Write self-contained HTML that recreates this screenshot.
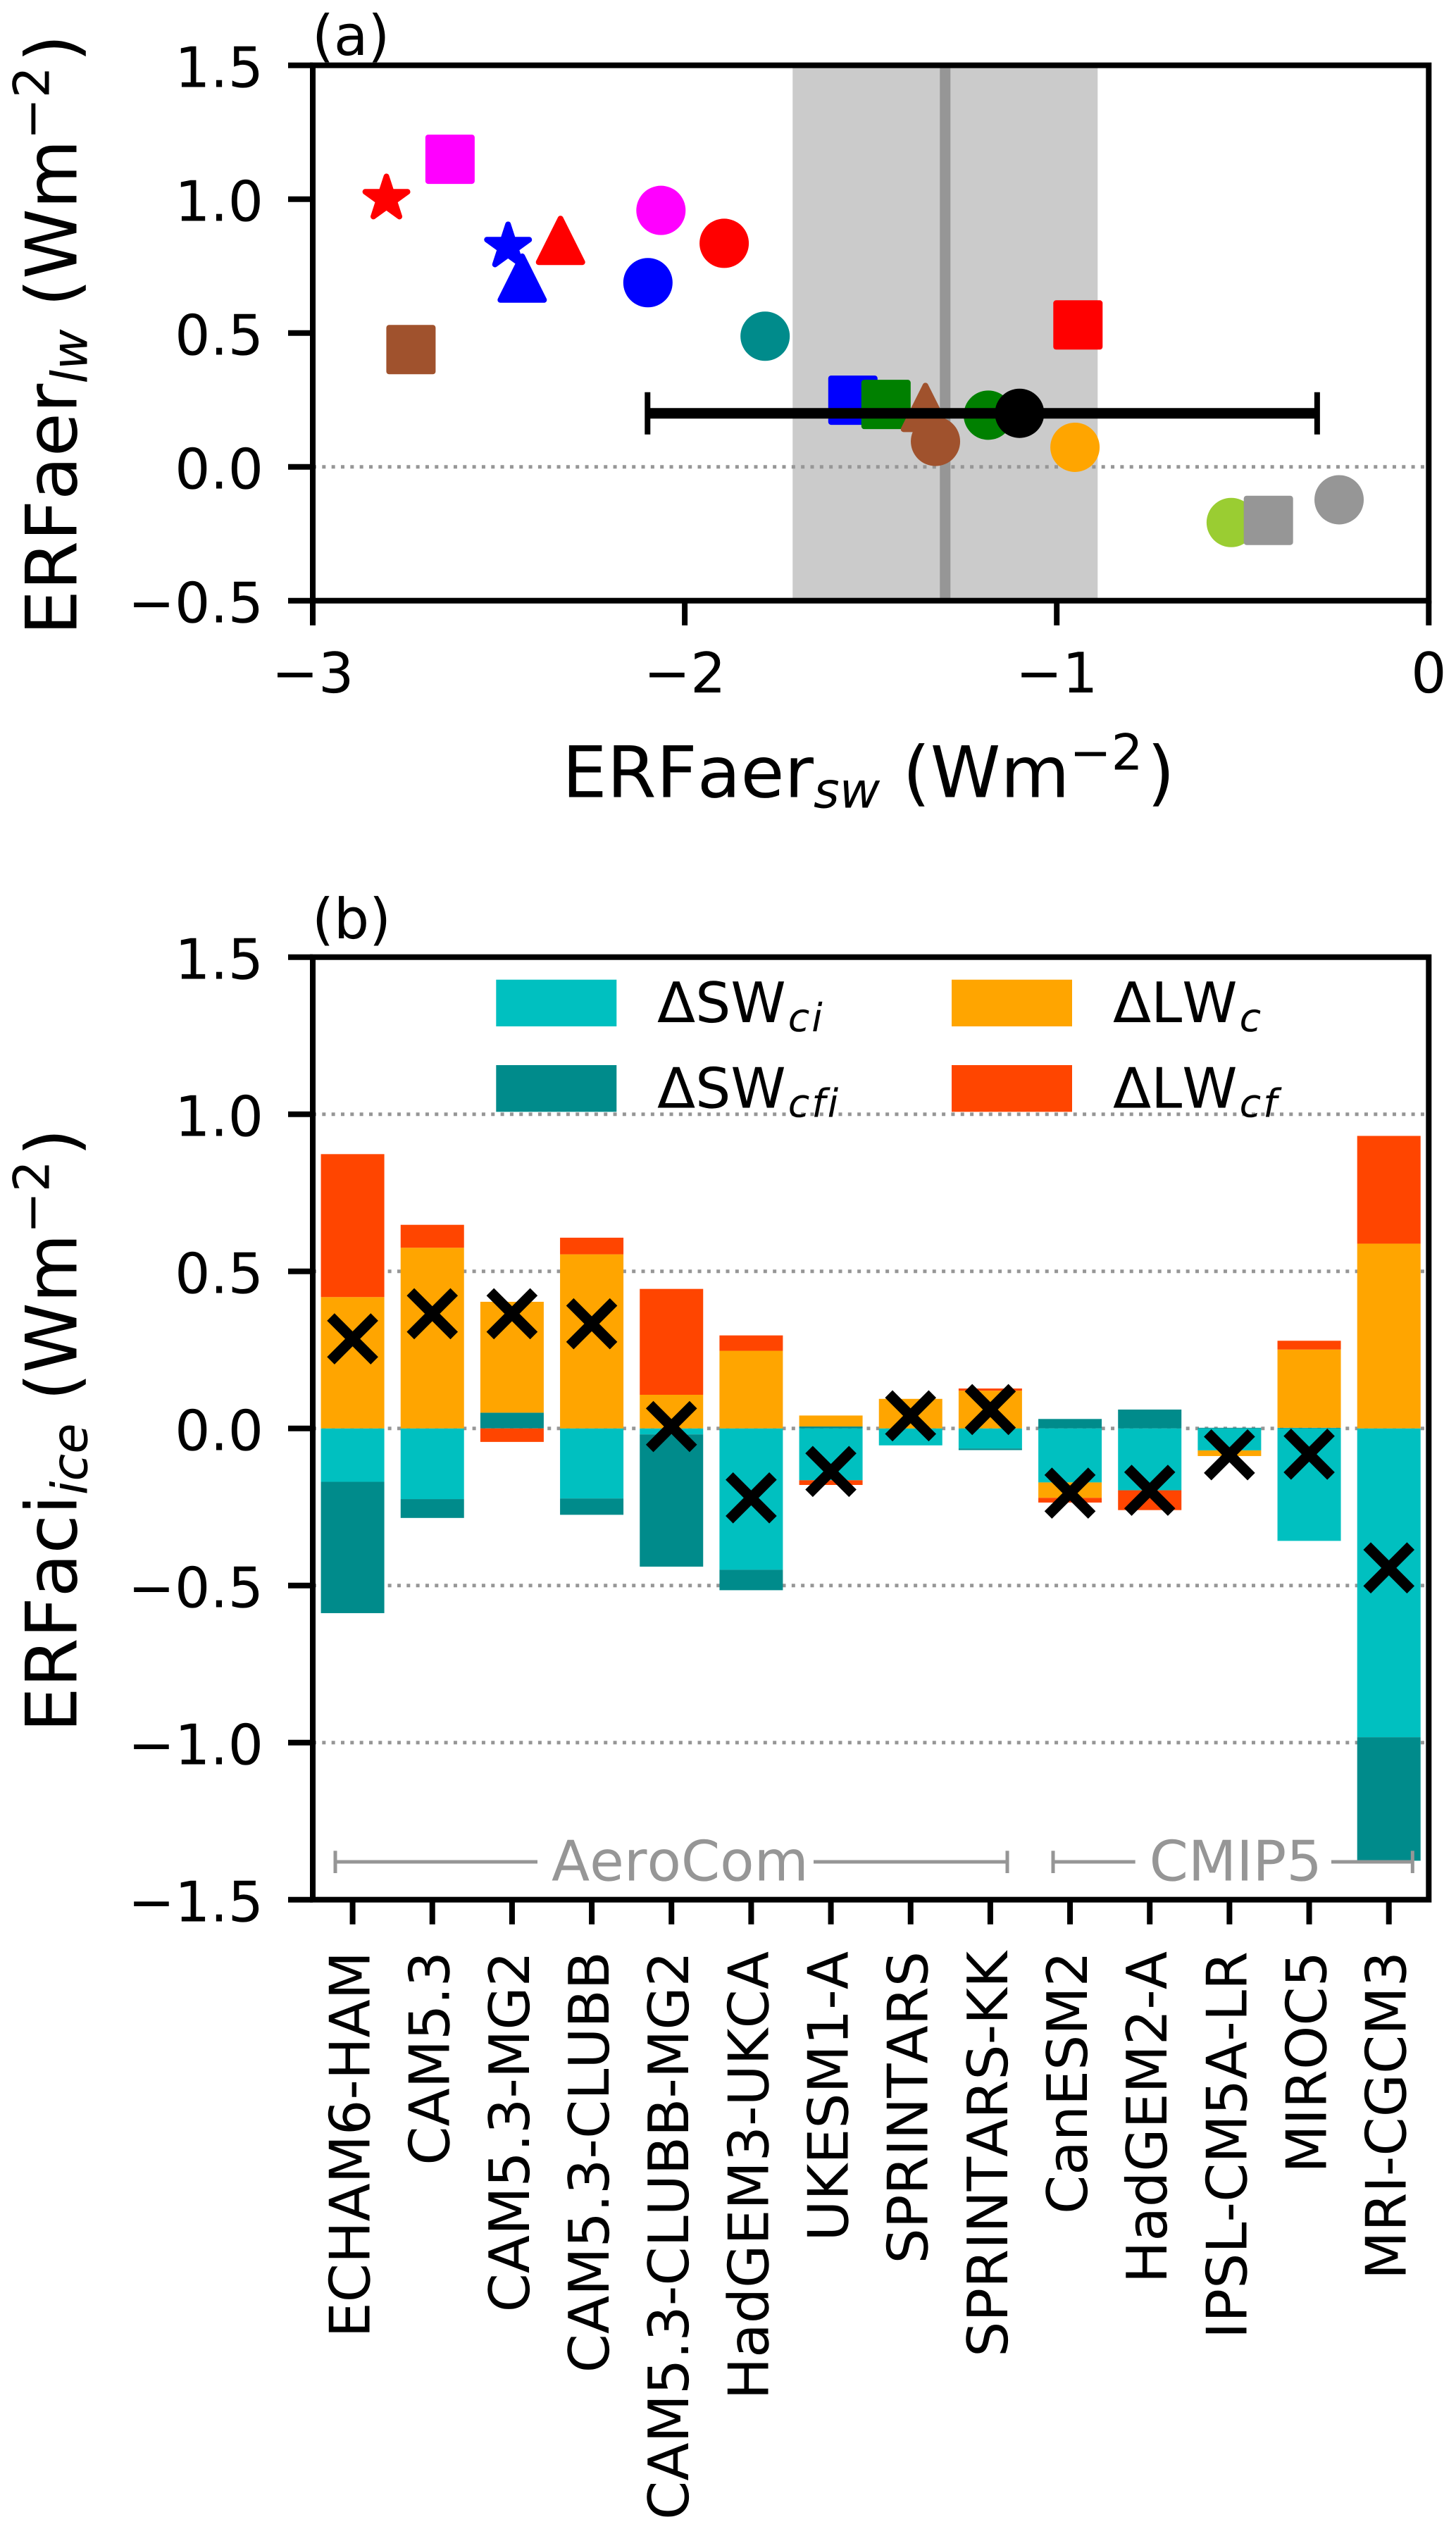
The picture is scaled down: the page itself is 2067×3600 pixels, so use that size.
<!DOCTYPE html>
<html lang="en">
<head>
<meta charset="utf-8">
<title>ERFaer and ERFaci ice figure</title>
<style>
html,body{margin:0;padding:0;background:#fff;}
svg{display:block;}
text{font-family:"DejaVu Sans","Liberation Sans",sans-serif;fill:#000;text-rendering:geometricPrecision;font-kerning:none;}
</style>
</head>
<body>
<svg id="figure" xmlns="http://www.w3.org/2000/svg" width="2067" height="3600" viewBox="0 0 2067 3600">
  <rect x="0" y="0" width="2067" height="3600" fill="#ffffff"/>
  <g id="panelA"></g>
  <g id="panelB"></g>

  <text x="443" y="78" font-size="79.2">(a)</text>
  <text x="798" y="1131.7" font-size="100.8">ERFaer<tspan font-size="70.5" font-style="italic" dy="15">sw</tspan><tspan font-size="100.8" dy="-15" xml:space="preserve"> (Wm</tspan><tspan font-size="70.5" dy="-39">−2</tspan><tspan font-size="100.8" dy="39" dx="6">)</tspan></text>
  <text transform="translate(108.3,901.6) rotate(-90)" x="0" y="0" font-size="100.8">ERFaer<tspan font-size="70.5" font-style="italic" dy="15">lw</tspan><tspan font-size="100.8" dy="-15" xml:space="preserve"> (Wm</tspan><tspan font-size="70.5" dy="-39">−2</tspan><tspan font-size="100.8" dy="39" dx="6">)</tspan></text>

  <text x="443" y="1332" font-size="79.2">(b)</text>
  <text transform="translate(108.3,2459) rotate(-90)" x="0" y="0" font-size="100.8">ERFaci<tspan font-size="70.5" font-style="italic" dy="15">ice</tspan><tspan font-size="100.8" dy="-15" xml:space="preserve"> (Wm</tspan><tspan font-size="70.5" dy="-39">−2</tspan><tspan font-size="100.8" dy="39" dx="6">)</tspan></text>

  <g id="legend">
    <rect x="704.3" y="1390.7" width="171" height="66.3" fill="#00c0c0"/>
    <rect x="704.3" y="1512" width="171" height="66.3" fill="#008b8b"/>
    <rect x="1351" y="1390.7" width="171" height="66.3" fill="#ffa500"/>
    <rect x="1351" y="1512" width="171" height="66.3" fill="#ff4500"/>
    <text x="933" y="1451" font-size="79.2">ΔSW<tspan font-size="55.5" font-style="italic" dy="13" dx="3" letter-spacing="3">ci</tspan></text>
    <text x="933" y="1572.3" font-size="79.2">ΔSW<tspan font-size="55.5" font-style="italic" dy="13" dx="3" letter-spacing="3">cfi</tspan></text>
    <text x="1580" y="1451" font-size="79.2">ΔLW<tspan font-size="55.5" font-style="italic" dy="13" dx="3" letter-spacing="3">c</tspan></text>
    <text x="1580" y="1572.3" font-size="79.2">ΔLW<tspan font-size="55.5" font-style="italic" dy="13" dx="3" letter-spacing="3">cf</tspan></text>
  </g>

  <g id="groupBrackets" stroke="#969696" stroke-width="5" fill="none">
    <line x1="476" y1="2643" x2="763" y2="2643"/>
    <line x1="476" y1="2627.3" x2="476" y2="2659"/>
    <line x1="1155" y1="2643" x2="1430" y2="2643"/>
    <line x1="1430" y1="2627.3" x2="1430" y2="2659"/>
    <line x1="1495" y1="2643" x2="1611.7" y2="2643"/>
    <line x1="1495" y1="2627.3" x2="1495" y2="2659"/>
    <line x1="1890" y1="2643" x2="2005.3" y2="2643"/>
    <line x1="2005.3" y1="2627.3" x2="2005.3" y2="2659"/>
  </g>
  <text x="783" y="2669.3" font-size="79.2" style="fill:#969696">AeroCom</text>
  <text x="1631.6" y="2669.3" font-size="79.2" style="fill:#969696">CMIP5</text>
</svg>

<script>
// ---------- Panel (a) data ----------
const scatterModels = ['red-star','magenta-square','brown-square','blue-star','blue-triangle','red-triangle','magenta-circle','red-circle','blue-circle','teal-circle','red-square','blue-square','green-square','brown-triangle','brown-circle','green-circle','orange-circle','yellowgreen-circle','grey-square','grey-circle'];
const scatterSw = [-2.802,-2.631,-2.736,-2.475,-2.437,-2.334,-2.064,-1.894,-2.099,-1.784,-0.943,-1.548,-1.459,-1.353,-1.326,-1.184,-0.951,-0.531,-0.431,-0.241];
const scatterLw = [1.002,1.149,0.438,0.823,0.705,0.846,0.958,0.835,0.688,0.488,0.530,0.249,0.233,0.222,0.095,0.193,0.073,-0.208,-0.200,-0.123];
const scatterShapes = ['star','square','square','star','triangle','triangle','circle','circle','circle','circle','square','square','square','triangle','circle','circle','circle','circle','square','circle'];
const scatterColors = ['#ff0000','#ff00ff','#a0522d','#0000ff','#0000ff','#ff0000','#ff00ff','#ff0000','#0000ff','#008b8b','#ff0000','#0000ff','#008000','#a0522d','#a0522d','#008000','#ffa500','#9acd32','#969696','#969696'];
const meanSw = [-1.1];
const meanLw = [0.2];
const errSwLow = [-2.1];
const errSwHigh = [-0.3];
const assessedLow = [-1.71];
const assessedHigh = [-0.89];
const assessedBest = [-1.3];
const aXTicks = [-3,-2,-1,0];
const aXTickLabels = ['−3','−2','−1','0'];
const aYTicks = [1.5,1.0,0.5,0.0,-0.5];
const aYTickLabels = ['1.5','1.0','0.5','0.0','−0.5'];

// ---------- Panel (b) data ----------
const modelNames = ['ECHAM6-HAM','CAM5.3','CAM5.3-MG2','CAM5.3-CLUBB','CAM5.3-CLUBB-MG2','HadGEM3-UKCA','UKESM1-A','SPRINTARS','SPRINTARS-KK','CanESM2','HadGEM2-A','IPSL-CM5A-LR','MIROC5','MRI-CGCM3'];
const swCi  = [-0.170,-0.225, 0.000,-0.223,-0.019,-0.450,-0.165,-0.054,-0.064,-0.172,-0.197,-0.070,-0.358,-0.983];
const swCfi = [-0.418,-0.060, 0.050,-0.052,-0.421,-0.065, 0.006, 0.000,-0.005, 0.030, 0.060, 0.002, 0.002,-0.393];
const lwC   = [ 0.418, 0.575, 0.353, 0.554, 0.107, 0.247, 0.035, 0.094, 0.120,-0.049, 0.000,-0.018, 0.249, 0.588];
const lwCf  = [ 0.455, 0.073,-0.043, 0.053, 0.337, 0.049,-0.015, 0.000, 0.007,-0.015,-0.063, 0.000, 0.028, 0.343];
const erfaciTotal = [0.285,0.365,0.365,0.333,0.006,-0.221,-0.137,0.040,0.060,-0.206,-0.197,-0.084,-0.082,-0.444];
const bYTicks = [1.5,1.0,0.5,0.0,-0.5,-1.0,-1.5];
const bYTickLabels = ['1.5','1.0','0.5','0.0','−0.5','−1.0','−1.5'];
const bGridLevels = [1.0,0.5,0.0,-0.5,-1.0];
const bSeriesNames = ['sw-ci','sw-cfi','lw-c','lw-cf'];
const bSeriesColors = ['#00c0c0','#008b8b','#ffa500','#ff4500'];

// ---------- Axis functions ----------
const AX = {left:444, right:2028.3, top:92.7, bottom:852.7};
const BX = {left:444, right:2028.3, top:1358.7, bottom:2696.7};
function xa(v){ return AX.right + (v - 0) * (AX.right - AX.left) / 3; }
function ya(v){ return AX.bottom - (v + 0.5) * (AX.bottom - AX.top) / 2; }
function xb(i){ return BX.left + (i + 0.5) * (BX.right - BX.left) / 14; }
function yb(v){ return BX.bottom - (v + 1.5) * (BX.bottom - BX.top) / 3; }

const NS = 'http://www.w3.org/2000/svg';
function mk(tag, attrs, parent){
  const el = document.createElementNS(NS, tag);
  for (const k in attrs) el.setAttribute(k, attrs[k]);
  parent.appendChild(el);
  return el;
}
const panelA = document.getElementById('panelA');
const panelB = document.getElementById('panelB');
const figure = document.getElementById('figure');
const GRID = {stroke:'#969696','stroke-width':5,'stroke-dasharray':'5 8.33'};

// ---------- Panel (a) drawing ----------
(function(){
  const shade = mk('rect',{x:xa(assessedLow[0]),y:AX.top,width:xa(assessedHigh[0])-xa(assessedLow[0]),height:AX.bottom-AX.top,fill:'#cbcbcb'},panelA);
  
  

  const zero = mk('line',Object.assign({x1:AX.left,x2:AX.right,y1:ya(0),y2:ya(0)},GRID),panelA);
  
  

  const best = mk('line',{x1:xa(assessedBest[0]),x2:xa(assessedBest[0]),y1:AX.top,y2:AX.bottom,stroke:'#969696','stroke-width':15},panelA);
  
  

  const R = 35, IN = 31, E = 4;
  scatterSw.forEach(function(v,i){
    const cx = xa(v), cy = ya(scatterLw[i]), c = scatterColors[i], s = scatterShapes[i];
    let m;
    if (s === 'circle') {
      m = mk('circle',{cx:cx,cy:cy,r:R,fill:c},panelA);
    } else if (s === 'square') {
      m = mk('rect',{x:cx-R,y:cy-R,width:2*R,height:2*R,rx:E,ry:E,fill:c},panelA);
    } else if (s === 'triangle') {
      const pts = [[cx,cy-IN],[cx+IN,cy+IN],[cx-IN,cy+IN]].map(function(p){return p.join(',');}).join(' ');
      m = mk('polygon',{points:pts,fill:c,stroke:c,'stroke-width':8,'stroke-linejoin':'round'},panelA);
    } else {
      const pts = [];
      const ro = 31.5, ri = ro*0.382;
      for (let k=0;k<10;k++){
        const a = -Math.PI/2 + k*Math.PI/5, r = k%2===0 ? ro : ri;
        pts.push((cx+r*Math.cos(a))+','+(cy+r*Math.sin(a)));
      }
      m = mk('polygon',{points:pts.join(' '),fill:c,stroke:c,'stroke-width':8,'stroke-linejoin':'round'},panelA);
    }
    
    
  });

  const err = mk('line',{x1:xa(errSwLow[0]),x2:xa(errSwHigh[0]),y1:ya(meanLw[0]),y2:ya(meanLw[0]),stroke:'#000','stroke-width':15},panelA);
  
  
  const capL = mk('line',{x1:xa(errSwLow[0]),x2:xa(errSwLow[0]),y1:ya(meanLw[0])-30,y2:ya(meanLw[0])+30,stroke:'#000','stroke-width':8},panelA);
  
  
  const capH = mk('line',{x1:xa(errSwHigh[0]),x2:xa(errSwHigh[0]),y1:ya(meanLw[0])-30,y2:ya(meanLw[0])+30,stroke:'#000','stroke-width':8},panelA);
  
  
  const meanPt = mk('circle',{cx:xa(meanSw[0]),cy:ya(meanLw[0]),r:R,fill:'#000'},panelA);
  
  

  const frame = mk('rect',{x:AX.left,y:AX.top,width:AX.right-AX.left,height:AX.bottom-AX.top,fill:'none',stroke:'#000','stroke-width':8},panelA);
  
  

  aXTicks.forEach(function(v,i){
    const t = mk('line',{x1:xa(v),x2:xa(v),y1:AX.bottom,y2:AX.bottom+35,stroke:'#000','stroke-width':8},panelA);
    
    
    const l = mk('text',{x:xa(v),y:983,'font-size':79.2,'text-anchor':'middle'},panelA);
    l.textContent = aXTickLabels[i];
    
    
  });
  aYTicks.forEach(function(v,i){
    const t = mk('line',{x1:AX.left-35,x2:AX.left,y1:ya(v),y2:ya(v),stroke:'#000','stroke-width':8},panelA);
    
    
    const l = mk('text',{x:374,y:ya(v)+31,'font-size':79.2,'text-anchor':'end'},panelA);
    l.textContent = aYTickLabels[i];
    
    
  });
})();

// ---------- Panel (b) drawing ----------
(function(){
  bGridLevels.forEach(function(v){
    const g = mk('line',Object.assign({x1:BX.left,x2:BX.right,y1:yb(v),y2:yb(v)},GRID),panelB);
    
    
  });

  const seriesValues = [swCi, swCfi, lwC, lwCf];
  const barW = 90;
  modelNames.forEach(function(name,i){
    let pos = 0, neg = 0;
    seriesValues.forEach(function(vals,s){
      const v = vals[i];
      if (v === 0) return;
      const base = v > 0 ? pos : neg;
      const top = base + v;
      if (v > 0) pos = top; else neg = top;
      const y1 = yb(Math.max(base,top)), y2 = yb(Math.min(base,top));
      const r = mk('rect',{x:xb(i)-barW/2,y:y1,width:barW,height:y2-y1,fill:bSeriesColors[s]},panelB);
      
      
    });
  });

  const frame = mk('rect',{x:BX.left,y:BX.top,width:BX.right-BX.left,height:BX.bottom-BX.top,fill:'none',stroke:'#000','stroke-width':8},panelB);
  
  

  erfaciTotal.forEach(function(v,i){
    const cx = xb(i), cy = yb(v), h = 31;
    const x = mk('path',{d:'M'+(cx-h)+' '+(cy-h)*1+' L'+(cx+h)+' '+(cy+h)+' M'+(cx-h)+' '+(cy+h)+' L'+(cx+h)+' '+(cy-h),stroke:'#000','stroke-width':15,fill:'none'},figure);
    
    
  });

  modelNames.forEach(function(name,i){
    const t = mk('line',{x1:xb(i),x2:xb(i),y1:BX.bottom,y2:BX.bottom+35,stroke:'#000','stroke-width':8},panelB);
    
    
    const l = mk('text',{transform:'translate('+(xb(i)+24)+',2770) rotate(-90)',x:0,y:0,'font-size':79.2,'text-anchor':'end'},panelB);
    l.textContent = name;
    
    
  });

  bYTicks.forEach(function(v,i){
    const t = mk('line',{x1:BX.left-35,x2:BX.left,y1:yb(v),y2:yb(v),stroke:'#000','stroke-width':8},panelB);
    
    
    const l = mk('text',{x:374,y:yb(v)+31,'font-size':79.2,'text-anchor':'end'},panelB);
    l.textContent = bYTickLabels[i];
    
    
  });
})();
</script>
</body>
</html>
